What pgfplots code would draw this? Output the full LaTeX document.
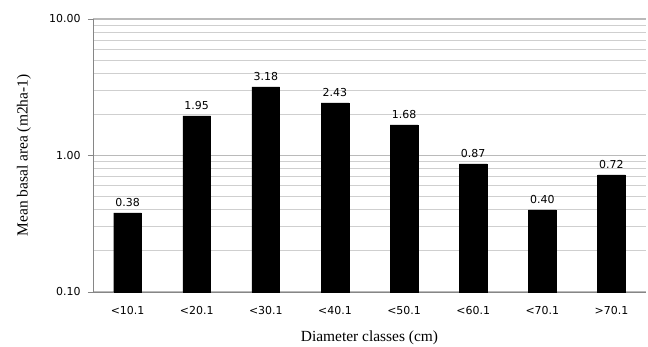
\documentclass[border=0pt]{standalone}
\usepackage{pgfplots}
\pgfplotsset{compat=1.18}
\usepackage{fontspec}
\setmainfont{Liberation Serif}
\newfontfamily\tickfont{DejaVu Sans}
\definecolor{axisgray}{HTML}{868686}
\definecolor{majgrid}{HTML}{BABABA}
\definecolor{mingrid}{HTML}{CFCFCF}
\begin{document}
\begin{tikzpicture}
\begin{axis}[
  at={(0,0)}, anchor=south west,
  scale only axis,
  width=553bp, height=273bp,
  ymode=log, log origin=infty,
  ymin=0.1, ymax=10,
  xmin=-0.5, xmax=7.5,
  enlarge x limits=false,
  axis x line*=bottom, axis y line*=left,
  axis line style={draw=axisgray, line width=0.8bp},
  ytick={0.1,1,10},
  yticklabels={0.10,1.00,10.00},
  ymajorgrids, yminorgrids,
  major grid style={draw=majgrid, line width=1.2bp},
  minor grid style={draw=mingrid, line width=1bp},
  minor tick length=0pt,
  major tick length=5bp,
  tick align=outside,
  tick style={draw=axisgray, line width=0.8bp},
  xtick={0,...,7},
  xticklabels={<10.1,<20.1,<30.1,<40.1,<50.1,<60.1,<70.1,>70.1},
  xtick style={draw=none},
  extra x ticks={-0.5,0.5,1.5,2.5,3.5,4.5,5.5,6.5,7.5},
  extra x tick labels={},
  extra x tick style={grid=none, tick style={draw=axisgray, line width=0.8bp}},
  tick label style={font=\tickfont\fontsize{11}{13}\selectfont},
  x tick label style={yshift=-6bp},
  y tick label style={xshift=-4bp},
  xlabel={Diameter classes (cm)},
  ylabel={Mean basal area (m2ha-1)},
  label style={font=\fontsize{15.5}{18}\selectfont},
  xlabel style={at={(axis description cs:0.5,0)}, anchor=center, yshift=-46bp},
  ylabel style={at={(axis description cs:0,0.5)}, anchor=center, rotate=0, xshift=0pt, yshift=69bp},
  /pgf/number format/assume math mode=true,
  nodes near coords={\pgfmathprintnumber[fixed,fixed zerofill,precision=2]{\pgfplotspointmeta}},
  point meta=rawy,
  nodes near coords style={font=\tickfont\fontsize{11}{13}\selectfont, black, yshift=3bp},
]
\addplot[ybar, bar width=0.4, fill=black, draw=black] coordinates {
  (0,0.38) (1,1.95) (2,3.18) (3,2.43) (4,1.68) (5,0.87) (6,0.40) (7,0.72)
};
\end{axis}
\pgfresetboundingbox
\useasboundingbox (-93bp,-55bp) rectangle (555bp,292bp);
\end{tikzpicture}
\end{document}
